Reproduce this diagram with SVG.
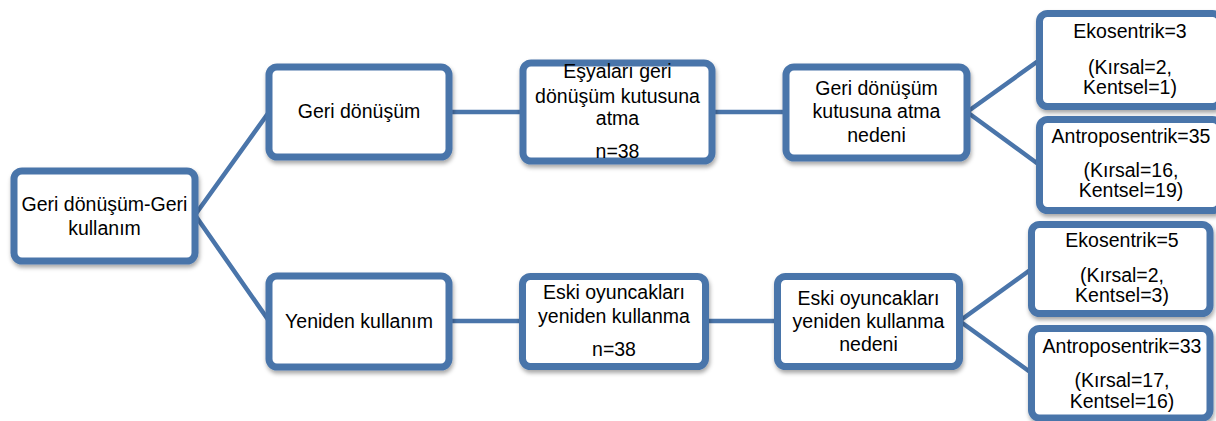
<svg xmlns="http://www.w3.org/2000/svg" width="1216" height="421" viewBox="0 0 1216 421">
<defs>
<filter id="sh" x="-10%" y="-10%" width="130%" height="130%">
<feDropShadow dx="1" dy="3" stdDeviation="2" flood-color="#000" flood-opacity="0.35"/>
</filter>
<style>
.box{fill:#fff;stroke:#4A75AA;stroke-width:7;filter:url(#sh)}
.c{stroke:#4A75AA;stroke-width:4.5;fill:none;stroke-linecap:round}
text{font-family:"Liberation Sans",Arial,sans-serif;font-size:19.5px;fill:#000;text-anchor:middle}
</style>
</defs>
<rect width="1216" height="421" fill="#fff"/>
<g id="connectors">
<line class="c" x1="195" y1="215" x2="269" y2="112"/>
<line class="c" x1="195" y1="215" x2="269" y2="321"/>
<line class="c" x1="449" y1="112" x2="523" y2="112"/>
<line class="c" x1="712" y1="112" x2="786" y2="112"/>
<line class="c" x1="967" y1="112" x2="1039.5" y2="60"/>
<line class="c" x1="967" y1="112" x2="1039.5" y2="165"/>
<line class="c" x1="449" y1="321" x2="522.5" y2="321"/>
<line class="c" x1="705.5" y1="321" x2="777.5" y2="321"/>
<line class="c" x1="959.5" y1="321" x2="1031.5" y2="269"/>
<line class="c" x1="959.5" y1="321" x2="1031.5" y2="373"/>
</g>
<g id="root">
<rect class="box" x="14" y="171" width="181" height="90" rx="8"/>
<text x="104.5" y="211">Geri dönüşüm-Geri</text>
<text x="104.5" y="235">kullanım</text>
</g>
<g id="geri-donusum">
<rect class="box" x="269" y="67" width="180" height="90" rx="8"/>
<text x="359" y="118">Geri dönüşüm</text>
</g>
<g id="yeniden-kullanim">
<rect class="box" x="269" y="276" width="180" height="91" rx="8"/>
<text x="359" y="328">Yeniden kullanım</text>
</g>
<g id="esyalari">
<rect class="box" x="523" y="63" width="189" height="98" rx="8"/>
<text x="617.5" y="78">Eşyaları geri</text>
<text x="617.5" y="103">dönüşüm kutusuna</text>
<text x="617.5" y="125">atma</text>
<text x="617.5" y="158">n=38</text>
</g>
<g id="geri-nedeni">
<rect class="box" x="786" y="67" width="181" height="91" rx="8"/>
<text x="876.5" y="95">Geri dönüşüm</text>
<text x="876.5" y="118">kutusuna atma</text>
<text x="876.5" y="142">nedeni</text>
</g>
<g id="eski-oyuncaklari">
<rect class="box" x="522.5" y="276.5" width="183" height="90" rx="8"/>
<text x="614" y="299">Eski oyuncakları</text>
<text x="614" y="323">yeniden kullanma</text>
<text x="614" y="356">n=38</text>
</g>
<g id="eski-nedeni">
<rect class="box" x="777.5" y="276.5" width="182" height="90" rx="8"/>
<text x="868.5" y="305">Eski oyuncakları</text>
<text x="868.5" y="328">yeniden kullanma</text>
<text x="868.5" y="351">nedeni</text>
</g>
<g id="ekosentrik-1">
<rect class="box" x="1039.5" y="13.5" width="181" height="93" rx="8"/>
<text x="1130" y="38">Ekosentrik=3</text>
<text x="1130" y="74">(Kırsal=2,</text>
<text x="1130" y="94">Kentsel=1)</text>
</g>
<g id="antroposentrik-1">
<rect class="box" x="1039.5" y="119.5" width="181" height="91" rx="8"/>
<text x="1131" y="143">Antroposentrik=35</text>
<text x="1131" y="177">(Kırsal=16,</text>
<text x="1131" y="197">Kentsel=19)</text>
</g>
<g id="ekosentrik-2">
<rect class="box" x="1031.5" y="224.5" width="178.5" height="89" rx="8"/>
<text x="1122" y="247">Ekosentrik=5</text>
<text x="1122" y="282">(Kırsal=2,</text>
<text x="1122" y="302">Kentsel=3)</text>
</g>
<g id="antroposentrik-2">
<rect class="box" x="1031.5" y="328.5" width="178.5" height="89.5" rx="8"/>
<text x="1122" y="353">Antroposentrik=33</text>
<text x="1122" y="387">(Kırsal=17,</text>
<text x="1122" y="408">Kentsel=16)</text>
</g>
</svg>
